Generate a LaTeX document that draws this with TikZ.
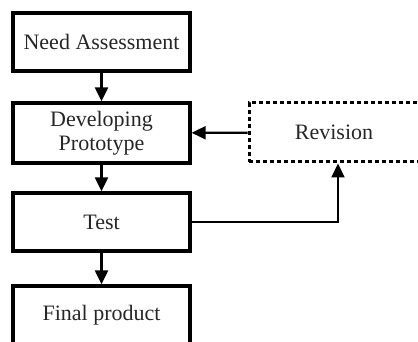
\documentclass[tikz,border=0pt]{standalone}
\usepackage{fontspec}
\setmainfont{Liberation Serif}
\usetikzlibrary{arrows.meta}
\begin{document}
\begin{tikzpicture}[x=1pt,y=-1pt,
  box/.style={draw=black,line width=3.3pt,minimum width=177pt,minimum height=58pt,inner sep=0pt,align=center,
    font=\fontsize{22}{24}\selectfont,text=black!85},
  dbox/.style={box,dash pattern=on 4pt off 3pt,line width=3pt,minimum width=170pt},
  conn/.style={draw=black,line width=2.2pt,-{Triangle[length=14pt,width=13pt]}}]
\useasboundingbox (0,0) rectangle (418,342);
\clip (0,0) rectangle (418,342);
\node[box] (need) at (101.5,42) {Need Assessment};
\node[box,minimum height=60pt] (dev) at (101.5,133) {Developing\\Prototype};
\node[box] (test) at (101.5,222) {Test};
\node[box] (final) at (101.5,315) {Final product};
\node[dbox,minimum height=59pt] (rev) at (334,132.5) {Revision};
\draw[conn] (need) -- (dev);
\draw[conn] (dev) -- (test);
\draw[conn] (test) -- (final);
\draw[conn] (rev) -- (dev);
\coordinate (up) at ([xshift=4pt]rev.south);
\draw[conn] (test.east) -| (up);
\end{tikzpicture}
\end{document}
